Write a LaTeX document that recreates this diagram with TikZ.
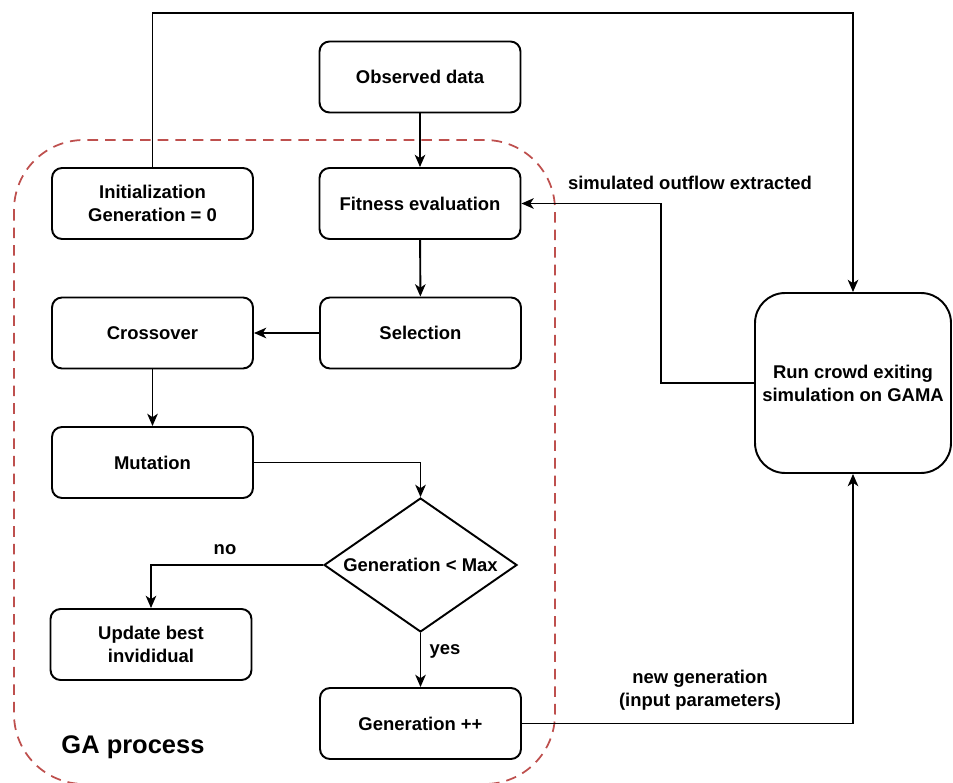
\documentclass[tikz,border=0pt]{standalone}
\usepackage{fontspec}
\setmainfont{Liberation Sans}
\usetikzlibrary{shapes.geometric,arrows.meta}
\definecolor{gared}{RGB}{190,80,78}
\begin{document}
\begin{tikzpicture}[x=0.02cm,y=-0.02cm,
  font=\fontsize{10.5}{13}\selectfont\bfseries,
  box/.style={draw, line width=1.1pt, rounded corners=0.2cm, minimum width=4.02cm, minimum height=1.42cm, align=center},
  cond/.style={draw, line width=1.1pt, diamond, aspect=1.44, inner sep=0pt, minimum width=3.86cm, minimum height=2.68cm},
  link/.style={line width=1.1pt, -{Stealth[length=7pt,width=6pt,inset=2pt]}},
  lbl/.style={align=center}]
\useasboundingbox (0,0) rectangle (953,783);
\draw[gared, line width=1pt, dash pattern=on 6pt off 4pt, rounded corners=1.4cm] (14,140) rectangle (555,784);
\node[box] (obs) at (420,77) {Observed data};
\node[box] (init) at (152.5,203.5) {Initialization\\Generation = 0};
\node[box] (fit) at (420,203.5) {Fitness evaluation};
\node[box] (sel) at (420.5,333) {Selection};
\node[box] (cross) at (152.5,333) {Crossover};
\node[box] (mut) at (152.5,462.5) {Mutation};
\node[cond] (dec) at (420.5,565) {Generation < Max};
\node[box] (upd) at (151,644.5) {Update best\\invididual};
\node[box] (gen) at (420.5,723.5) {Generation ++};
\node[box, rounded corners=0.6cm, minimum width=3.92cm, minimum height=3.6cm] (run) at (853,383) {Run crowd exiting\\simulation on GAMA};
\coordinate (top) at (500,13);
\coordinate (sim) at (661,300);
\draw[link] (init.north) |- (top) -| (run.north);
\draw[link] (obs) -- (fit);
\draw[link] (run.west) -| (sim) |- (fit.east);
\draw[link] (fit) -- (sel);
\draw[link] (sel) -- (cross);
\draw[link] (cross) -- (mut);
\draw[link] (mut.east) -| (dec.north);
\draw[link] (dec.west) -| (upd.north);
\draw[link] (dec.south) -- (gen.north);
\draw[link] (gen.east) -| (run.south);
\node[lbl] (simlbl) at (690,183) {simulated outflow extracted};
\node[lbl] (nolbl) at (225,550) {no};
\node[lbl] (yeslbl) at (445,651) {yes};
\node[lbl] (newlbl) at (700,690) {new generation\\(input parameters)};
\node[lbl, font=\fontsize{14.5}{17}\selectfont\bfseries] (galbl) at (133,747) {GA process};
\end{tikzpicture}
\end{document}
